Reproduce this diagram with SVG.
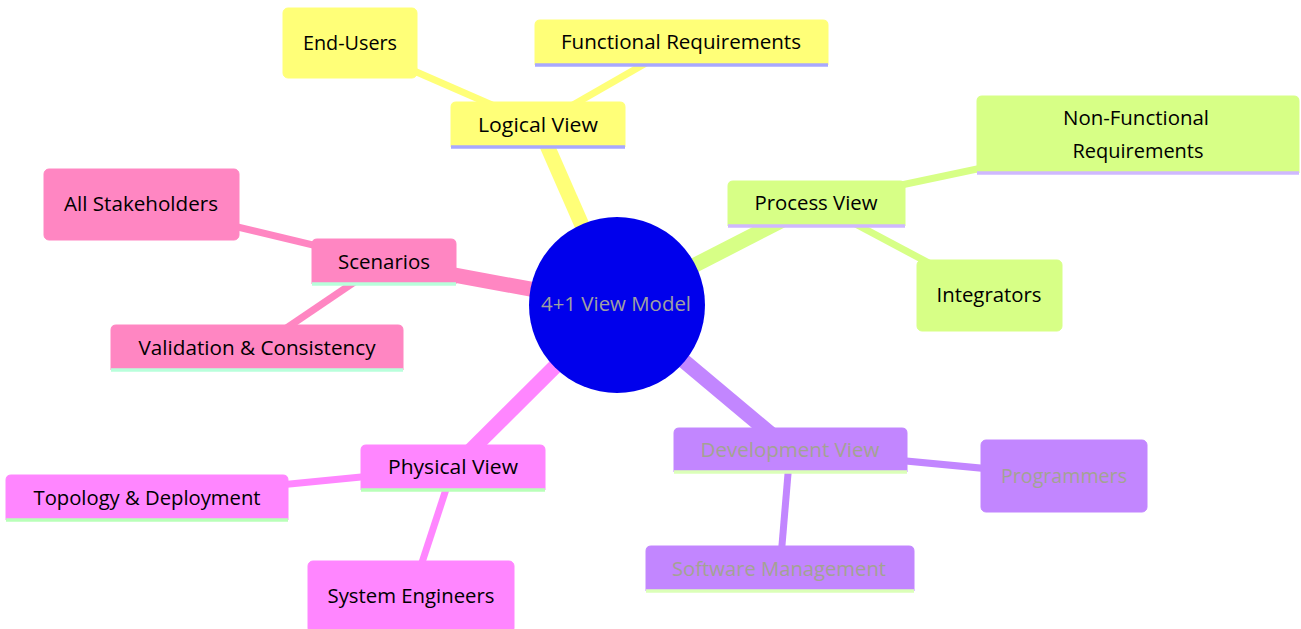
<svg xmlns="http://www.w3.org/2000/svg" width="1301" height="629" viewBox="0 0 1301 629">
<style>
  text { font-family: "Open Sans", "Noto Sans", "Liberation Sans", sans-serif; font-size: 20px; fill: #000; text-anchor: middle; dominant-baseline: central; }
  .e1 { stroke-width: 15; fill: none; }
  .e2 { stroke-width: 7; fill: none; }
  .s0 { fill: hsl(60, 100%, 73.53%); stroke: hsl(60, 100%, 73.53%); }
  .s1 { fill: hsl(80, 100%, 76.27%); stroke: hsl(80, 100%, 76.27%); }
  .s2 { fill: hsl(270, 100%, 76.27%); stroke: hsl(270, 100%, 76.27%); }
  .s3 { fill: hsl(300, 100%, 76.27%); stroke: hsl(300, 100%, 76.27%); }
  .s4 { fill: hsl(330, 100%, 76.27%); stroke: hsl(330, 100%, 76.27%); }
  .c0 { stroke: hsl(60, 100%, 73.53%); }
  .c1 { stroke: hsl(80, 100%, 76.27%); }
  .c2 { stroke: hsl(270, 100%, 76.27%); }
  .c3 { stroke: hsl(300, 100%, 76.27%); }
  .c4 { stroke: hsl(330, 100%, 76.27%); }
  .box { stroke-width: 1; }
  .u0 { stroke: hsl(240, 100%, 83%); stroke-width: 3.5; }
  .u1 { stroke: hsl(260, 100%, 86%); stroke-width: 3.5; }
  .u2 { stroke: hsl(90, 100%, 86%); stroke-width: 3.5; }
  .u3 { stroke: hsl(120, 100%, 86%); stroke-width: 3.5; }
  .u4 { stroke: hsl(150, 100%, 86%); stroke-width: 3.5; }
  .light { fill: #a0a0a0; }
  .dev { fill: #a3a392; }
</style>
<rect x="0" y="0" width="1301" height="629" fill="#ffffff"/>
<g id="connectors">
  <line class="e1 c0" x1="617" y1="305" x2="538" y2="125"/>
  <line class="e1 c1" x1="617" y1="305" x2="816" y2="203"/>
  <line class="e1 c2" x1="617" y1="305" x2="790" y2="450"/>
  <line class="e1 c3" x1="617" y1="305" x2="453" y2="468"/>
  <line class="e1 c4" x1="617" y1="305" x2="384" y2="262"/>
  <line class="e2 c0" x1="538" y1="125" x2="350" y2="43"/>
  <line class="e2 c0" x1="538" y1="125" x2="681" y2="43"/>
  <line class="e2 c1" x1="816" y1="203" x2="1138" y2="135"/>
  <line class="e2 c1" x1="816" y1="203" x2="989" y2="295"/>
  <line class="e2 c4" x1="384" y1="262" x2="141" y2="204"/>
  <line class="e2 c4" x1="384" y1="262" x2="257" y2="348"/>
  <line class="e2 c3" x1="453" y1="468" x2="147" y2="498"/>
  <line class="e2 c3" x1="453" y1="468" x2="411" y2="596"/>
  <line class="e2 c2" x1="790" y1="450" x2="1064" y2="476"/>
  <line class="e2 c2" x1="790" y1="450" x2="780" y2="569"/>
</g>
<g id="node-logical">
  <path class="s0 box" d="M451,147 V107 Q451,102 456,102 H620 Q625,102 625,107 V147 Z"/>
  <line class="u0" x1="451" y1="147" x2="625" y2="147"/>
  <text x="538" y="124" textLength="120" lengthAdjust="spacingAndGlyphs">Logical View</text>
</g>
<g id="node-endusers">
  <rect class="s0 box" x="283" y="8" width="134" height="70" rx="5"/>
  <text x="350" y="42" textLength="94" lengthAdjust="spacingAndGlyphs">End-Users</text>
</g>
<g id="node-functional">
  <path class="s0 box" d="M535,65 V25 Q535,20 540,20 H823 Q828,20 828,25 V65 Z"/>
  <line class="u0" x1="535" y1="65" x2="828" y2="65"/>
  <text x="681" y="41" textLength="240" lengthAdjust="spacingAndGlyphs">Functional Requirements</text>
</g>
<g id="node-process">
  <path class="s1 box" d="M728,226 V186 Q728,181 733,181 H900 Q905,181 905,186 V226 Z"/>
  <line class="u1" x1="728" y1="226" x2="905" y2="226"/>
  <text x="816" y="202" textLength="123" lengthAdjust="spacingAndGlyphs">Process View</text>
</g>
<g id="node-nonfunctional">
  <path class="s1 box" d="M977,173 V101 Q977,96 982,96 H1294 Q1299,96 1299,101 V173 Z"/>
  <line class="u1" x1="977" y1="173" x2="1299" y2="173"/>
  <text x="1136" y="117" textLength="146" lengthAdjust="spacingAndGlyphs">Non-Functional</text>
  <text x="1138" y="150" textLength="131" lengthAdjust="spacingAndGlyphs">Requirements</text>
</g>
<g id="node-integrators">
  <rect class="s1 box" x="917" y="260" width="145" height="71" rx="5"/>
  <text x="989" y="294" textLength="105" lengthAdjust="spacingAndGlyphs">Integrators</text>
</g>
<g id="node-scenarios">
  <path class="s4 box" d="M312,284 V244 Q312,239 317,239 H451 Q456,239 456,244 V284 Z"/>
  <line class="u4" x1="312" y1="284" x2="456" y2="284"/>
  <text x="384" y="261" textLength="92" lengthAdjust="spacingAndGlyphs">Scenarios</text>
</g>
<g id="node-stakeholders">
  <rect class="s4 box" x="44" y="169" width="195" height="71" rx="5"/>
  <text x="141" y="203" textLength="154" lengthAdjust="spacingAndGlyphs">All Stakeholders</text>
</g>
<g id="node-validation">
  <path class="s4 box" d="M111,370 V330 Q111,325 116,325 H398 Q403,325 403,330 V370 Z"/>
  <line class="u4" x1="111" y1="370" x2="403" y2="370"/>
  <text x="257" y="347" textLength="237" lengthAdjust="spacingAndGlyphs">Validation &amp; Consistency</text>
</g>
<g id="node-physical">
  <path class="s3 box" d="M361,490 V450 Q361,445 366,445 H540 Q545,445 545,450 V490 Z"/>
  <line class="u3" x1="361" y1="490" x2="545" y2="490"/>
  <text x="453" y="466" textLength="130" lengthAdjust="spacingAndGlyphs">Physical View</text>
</g>
<g id="node-topology">
  <path class="s3 box" d="M6,520 V480 Q6,475 11,475 H283 Q288,475 288,480 V520 Z"/>
  <line class="u3" x1="6" y1="520" x2="288" y2="520"/>
  <text x="147" y="497" textLength="227" lengthAdjust="spacingAndGlyphs">Topology &amp; Deployment</text>
</g>
<g id="node-sysengineers">
  <rect class="s3 box" x="308" y="561" width="206" height="72" rx="5"/>
  <text x="411" y="595" textLength="167" lengthAdjust="spacingAndGlyphs">System Engineers</text>
</g>
<g id="node-development">
  <path class="s2 box" d="M674,472 V433 Q674,428 679,428 H902 Q907,428 907,433 V472 Z"/>
  <line class="u2" x1="674" y1="472" x2="907" y2="472"/>
  <text class="dev" x="790" y="449" textLength="179" lengthAdjust="spacingAndGlyphs">Development View</text>
</g>
<g id="node-programmers">
  <rect class="s2 box" x="981" y="440" width="166" height="72" rx="5"/>
  <text class="dev" x="1064" y="475" textLength="126" lengthAdjust="spacingAndGlyphs">Programmers</text>
</g>
<g id="node-softwaremgmt">
  <path class="s2 box" d="M646,591 V551 Q646,546 651,546 H909 Q914,546 914,551 V591 Z"/>
  <line class="u2" x1="646" y1="591" x2="914" y2="591"/>
  <text class="dev" x="779" y="568" textLength="214" lengthAdjust="spacingAndGlyphs">Software Management</text>
</g>
<g id="node-root">
  <circle cx="617" cy="305" r="88" fill="hsl(240, 100%, 46.27%)"/>
  <text class="light" x="616" y="303" textLength="150" lengthAdjust="spacingAndGlyphs">4+1 View Model</text>
</g>
</svg>
